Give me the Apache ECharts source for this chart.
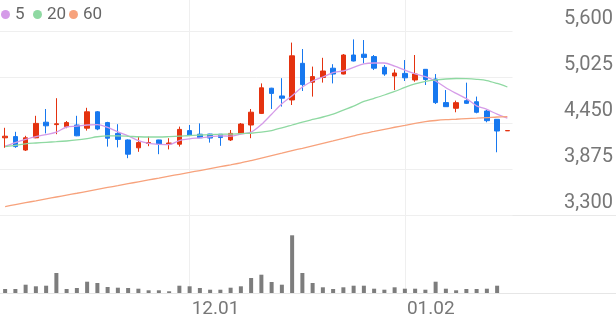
<!DOCTYPE html>
<html><head><meta charset="utf-8">
<script src="https://cdn.jsdelivr.net/npm/echarts/dist/echarts.min.js"></script>
<style>html,body{margin:0;padding:0;background:#fff}#c{width:616px;height:321px}</style>
</head><body><div id="c"></div>
<script>
const categories = ['11.07','11.08','11.09','11.10','11.11','11.14','11.15','11.16','11.17','11.18',
  '11.21','11.22','11.23','11.24','11.25','11.28','11.29','11.30','12.01','12.02',
  '12.05','12.06','12.07','12.08','12.09','12.12','12.13','12.14','12.15','12.16',
  '12.19','12.20','12.21','12.22','12.23','12.26','12.27','12.28','12.29','01.02',
  '01.03','01.04','01.05','01.06','01.09','01.10','01.11','01.12','01.13','01.16'];
const openVals = [4265,4280,4112,4265,4460,4430,4405,4425,4385,4590,
  4455,4320,4238,4140,4195,4238,4190,4185,4355,4310,
  4312,4310,4238,4318,4425,4570,4885,4788,4738,5196,
  4960,5020,5135,5062,5300,5310,5280,5146,5038,5070,
  4988,5121,5000,4705,4634,4729,4716,4600,4496,4352];
const closeVals = [4285,4155,4265,4445,4415,4440,4455,4290,4590,4375,
  4260,4245,4060,4205,4205,4188,4200,4370,4300,4265,
  4262,4268,4320,4437,4585,4890,4820,4760,5290,4930,
  5030,5100,5062,5300,5225,5270,5135,5062,5075,5015,
  5062,4994,4705,4654,4704,4696,4584,4479,4350,4356];
const lowVals = [4140,4140,4100,4260,4320,4310,4385,4285,4355,4360,
  4155,4145,4010,4090,4160,4060,4120,4155,4288,4262,
  4205,4165,4225,4310,4260,4562,4625,4655,4675,4850,
  4780,4955,4945,5058,5220,5195,5112,5040,4862,4975,
  4966,4925,4688,4650,4584,4688,4571,4459,4084,4352];
const highVals = [4390,4340,4290,4540,4625,4760,4475,4540,4640,4600,
  4465,4435,4245,4280,4280,4240,4260,4405,4425,4445,
  4315,4312,4362,4450,4625,4945,4890,5010,5455,5375,
  5155,5265,5185,5312,5495,5487,5300,5175,5120,5237,
  5300,5125,5062,4862,4730,4954,4780,4612,4500,4356];
const ma5 = [4160,4205,4245,4280,4305,4335,4400,4410,4425,4430,
  4395,4340,4290,4230,4195,4182,4180,4230,4252,4264,
  4278,4290,4285,4310,4335,4430,4560,4690,4790,4900,
  4975,5025,5080,5100,5145,5190,5200,5200,5160,5110,
  5065,5030,4975,4890,4820,4755,4665,4620,4560,4510];
const ma20 = [4154,4169,4190,4200,4209,4216,4225,4238,4256,4278,
  4288,4288,4284,4278,4275,4275,4279,4285,4294,4300,
  4305,4309,4312,4318,4322,4335,4356,4388,4425,4462,
  4494,4525,4562,4612,4662,4719,4759,4800,4844,4894,
  4938,4969,4988,5000,5006,5004,4996,4981,4944,4900];
const ma60 = [3406,3430,3454,3477,3501,3525,3549,3572,3596,3620,
  3644,3667,3691,3715,3739,3761,3785,3809,3832,3856,
  3880,3904,3927,3951,3980,4011,4042,4072,4104,4134,
  4165,4196,4226,4257,4289,4319,4344,4371,4397,4421,
  4446,4467,4481,4491,4497,4504,4510,4517,4525,4530];
const volumes = [40000,40000,83000,67000,73000,200000,40000,50000,113000,100000,
  60000,53000,50000,43000,27000,27000,17000,73000,67000,50000,
  33000,33000,53000,67000,150000,183000,110000,83000,577000,200000,
  100000,57000,40000,57000,73000,73000,43000,33000,57000,43000,
  43000,33000,113000,43000,27000,40000,40000,43000,73000,0];
const priceTicks = [3300, 3875, 4450, 5025, 5600];
const dateTickLabels = ['12.01', '01.02'];
const seriesNames = ['5', '20', '60'];

const RED = '#e4320f', BLUE = '#1778ef';
const COLORS = ['#d59be8', '#8fd9a2', '#f7a27c'];
const candleData = categories.map((c, i) => [openVals[i], closeVals[i], lowVals[i], highVals[i]]);
const showDate = (idx, val) => dateTickLabels.indexOf(val) >= 0;
const priceInterval = priceTicks[1] - priceTicks[0];

const chart = echarts.init(document.getElementById('c'), null, {renderer: 'canvas'});
chart.setOption({
  animation: false,
  backgroundColor: '#fff',
  legend: seriesNames.map((n, i) => ({
    data: [n], left: [1, 33, 69][i], top: 6, padding: 0,
    icon: 'circle', itemWidth: 9, itemHeight: 9,
    textStyle: {fontSize: 17, color: '#666', fontFamily: 'Roboto'},
    selectedMode: false
  })),
  graphic: [
    {type: 'line', shape: {x1: 0, y1: 215.5, x2: 616, y2: 215.5}, style: {stroke: '#e9e9e9', lineWidth: 1}, z: -1},
    {type: 'line', shape: {x1: 0, y1: 293.5, x2: 616, y2: 293.5}, style: {stroke: '#e6e6e6', lineWidth: 1}, z: -1}
  ],
  grid: [
    {left: 0, right: 103.5, top: 31, bottom: 106},
    {left: 0, right: 103.5, top: 213, bottom: 28},
    {left: 5.125, right: 108.625, top: 0, bottom: 28}
  ],
  xAxis: [
    {type: 'category', gridIndex: 0, data: categories, boundaryGap: true, show: false},
    {type: 'category', gridIndex: 1, data: categories, boundaryGap: true, show: false},
    {type: 'category', gridIndex: 2, data: categories, boundaryGap: false,
      axisLine: {show: false}, axisTick: {show: false},
      splitLine: {show: true, interval: showDate, lineStyle: {color: '#efefef', width: 1}},
      axisLabel: {interval: showDate, align: 'left', margin: 7, padding: [0, 0, 0, 2],
        fontSize: 19, color: '#777', fontFamily: 'Roboto'}}
  ],
  yAxis: [
    {type: 'value', gridIndex: 0, position: 'right', min: priceTicks[0], max: priceTicks[priceTicks.length - 1],
      interval: priceInterval,
      axisLine: {show: false}, axisTick: {show: false},
      splitLine: {show: true, lineStyle: {color: '#efefef', width: 1}},
      axisLabel: {margin: 100.5, align: 'right', verticalAlign: 'bottom', padding: [0, 0, 2, 0],
        fontSize: 20, color: '#777', fontFamily: 'Roboto',
        formatter: v => v.toLocaleString('en-US')}},
    {type: 'value', gridIndex: 1, min: 0, max: 800000, show: false, splitLine: {show: false}},
    {type: 'value', gridIndex: 2, show: false, splitLine: {show: false}}
  ],
  series: [
    {type: 'candlestick', name: 'price', xAxisIndex: 0, yAxisIndex: 0, data: candleData, barWidth: 5,
      itemStyle: {color: RED, color0: BLUE, borderColor: RED, borderColor0: BLUE, borderWidth: 1}},
    {type: 'bar', name: 'volume', xAxisIndex: 1, yAxisIndex: 1, data: volumes, barWidth: 4,
      itemStyle: {color: '#7d7d7d'}},
    {type: 'line', name: seriesNames[0], xAxisIndex: 0, yAxisIndex: 0, data: ma5, showSymbol: false, smooth: 0.3,
      color: COLORS[0], lineStyle: {width: 1.3, color: COLORS[0]}},
    {type: 'line', name: seriesNames[1], xAxisIndex: 0, yAxisIndex: 0, data: ma20, showSymbol: false, smooth: 0.3,
      color: COLORS[1], lineStyle: {width: 1.3, color: COLORS[1]}},
    {type: 'line', name: seriesNames[2], xAxisIndex: 0, yAxisIndex: 0, data: ma60, showSymbol: false, smooth: 0.3,
      color: COLORS[2], lineStyle: {width: 1.3, color: COLORS[2]}}
  ]
});
</script></body></html>
